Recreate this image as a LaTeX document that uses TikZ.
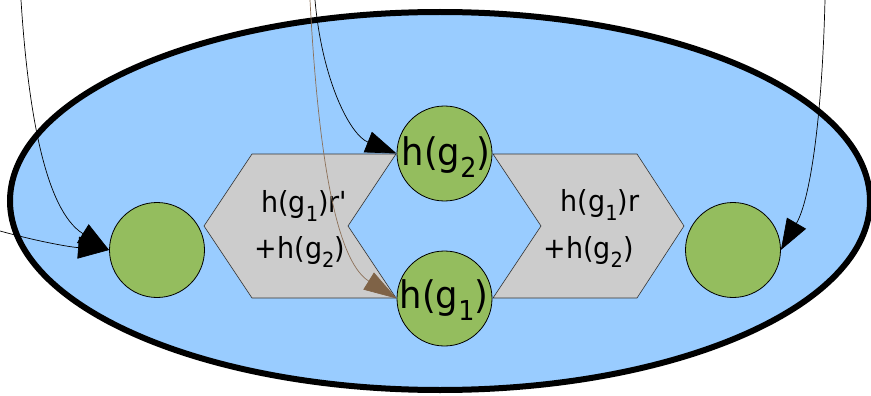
\documentclass[tikz,border=0pt]{standalone}
\usepackage{fontspec}
\setmainfont{DejaVu Sans}[FakeStretch=0.93]
\usepackage{graphicx}
\usetikzlibrary{arrows.meta}
\definecolor{ellfill}{HTML}{99CCFF}
\definecolor{circfill}{HTML}{94BD5E}
\definecolor{hexfill}{HTML}{CCCCCC}
\definecolor{hexline}{HTML}{333333}
\definecolor{brownline}{HTML}{8C7058}
\definecolor{brownhead}{HTML}{7F6347}
\newcommand\sbA[1]{\raisebox{-0.33em}{\scalebox{0.72}{#1}}}
\begin{document}
\begin{tikzpicture}[x=1pt,y=-1pt,
  circ/.style={circle, draw=black, line width=0.8pt, fill=circfill, minimum size=95pt, inner sep=0pt},
  hexa/.style={draw=hexline, line width=0.6pt, fill=hexfill},
  bigtxt/.style={font=\fontsize{38}{45}\selectfont, inner sep=0pt},
  midtxt/.style={font=\fontsize{29}{35}\selectfont, inner sep=0pt},
  conn/.style={line width=0.7pt, -{Triangle[length=31pt,width=22pt]}},
]
\useasboundingbox (0,0) rectangle (871,396);
\draw[line width=6pt, fill=ellfill] (440,201) ellipse [x radius=430, y radius=189];
% hexagonal arrow shapes
\draw[hexa] (252,154) -- (396,154) -- (348,226) -- (396,298) -- (252,298) -- (204,226) -- cycle;
\draw[hexa] (493,154) -- (637,154) -- (684,226) -- (637,298) -- (493,298) -- (541,226) -- cycle;
% circles
\node[circ] (c0) at (157,250) {};
\node[circ] (cg2) at (444.5,153.5) {};
\node[circ] (cg1) at (444.5,298.5) {};
\node[circ] (c3) at (733,250) {};
% texts
\node[bigtxt, anchor=base] (tg2) at (446,165) {h(g\sbA{2})};
\node[bigtxt, anchor=base] (tg1) at (444,308) {h(g\sbA{1})};
\node[midtxt, anchor=base] (la1) at (304.5,212) {h(g\sbA{1})r\textquotesingle};
\node[midtxt, anchor=base] (la2) at (300,258) {+h(g\sbA{2})};
\node[midtxt, anchor=base] (ra1) at (600,211) {h(g\sbA{1})r};
\node[midtxt, anchor=base] (ra2) at (588.5,258) {+h(g\sbA{2})};
% free ends
\coordinate (s1) at (21,0);
\coordinate (s2) at (0,231);
\coordinate (s3) at (315,0);
\coordinate (s4) at (310,0);
\coordinate (s5) at (825,0);
% connectors
\draw[conn] (s1) .. controls (28,110) and (45,210) .. (c0.west);
\draw[conn] (s2) .. controls (40,242) and (70,247) .. (c0.west);
\draw[conn] (s3) .. controls (322,80) and (350,135) .. (cg2.west);
\draw[conn, draw=brownline, -{Triangle[length=33pt,width=20pt,color=brownhead]}] (s4) .. controls (318,150) and (335,260) .. (cg1.west);
\draw[conn] (s5) .. controls (822,120) and (810,200) .. (c3.east);
\end{tikzpicture}
\end{document}
